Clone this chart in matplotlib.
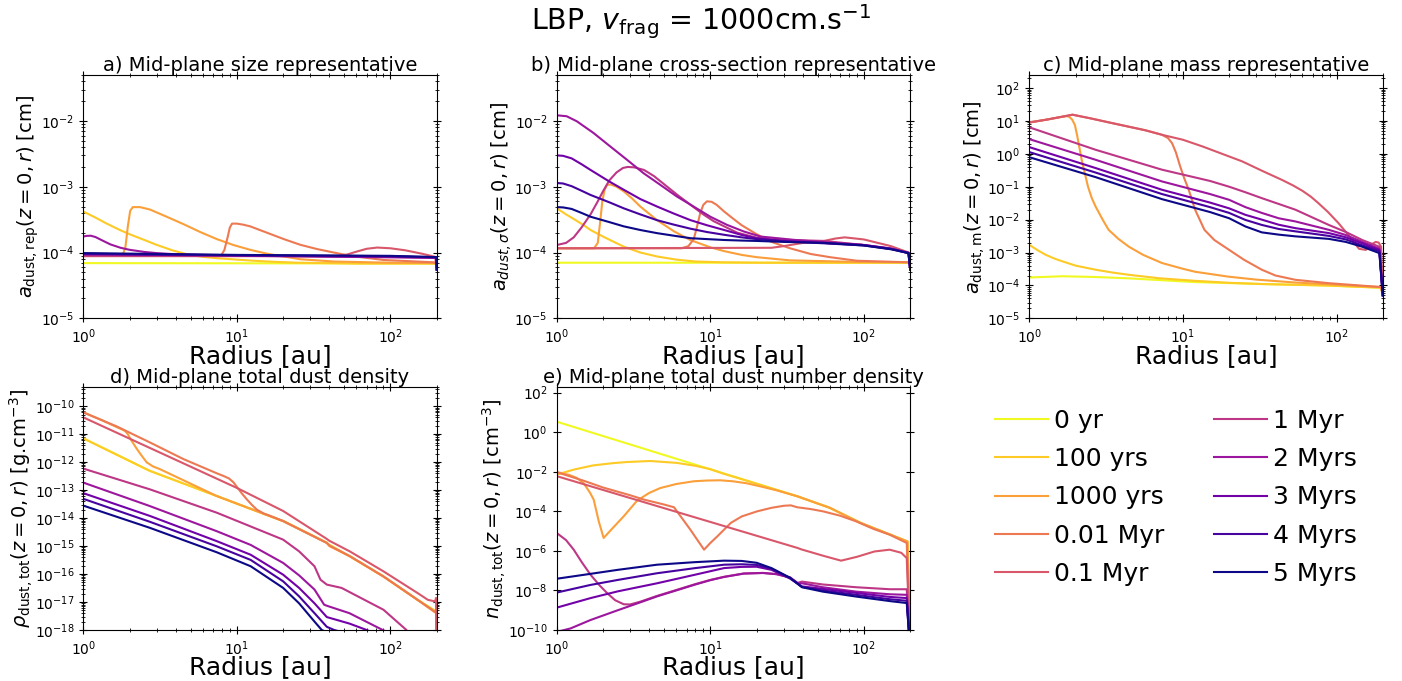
"""Mid-plane dust profiles for the LBP run (v_frag = 1000 cm/s)."""
import matplotlib
matplotlib.use("Agg")
import matplotlib.pyplot as plt
import numpy as np

LABELS = ["0 yr", "100 yrs", "1000 yrs", "0.01 Myr", "0.1 Myr",
          "1 Myr", "2 Myrs", "3 Myrs", "4 Myrs", "5 Myrs"]

# a) mid-plane size representative [cm], (radius [au], value) per snapshot
size_rep = [
    ([1, 199, 200], [6.9e-5, 6.8e-5, 6.6e-5]),
    ([1, 1.2, 1.4, 1.73, 2.0, 2.5, 3.0, 3.8, 4.9, 6, 7.4, 10, 12.8, 18, 25, 40, 60, 199, 200],
     [4.2e-4, 3.4e-4, 2.8e-4, 2.2e-4, 1.9e-4, 1.55e-4, 1.31e-4, 1.08e-4, 9.2e-5, 8.6e-5, 8.2e-5,
      7.8e-5, 7.5e-5, 7.2e-5, 7.0e-5, 6.9e-5, 6.8e-5, 6.8e-5, 6.6e-5]),
    ([1, 1.8, 1.88, 1.95, 2.02, 2.1, 2.34, 2.72, 3.49, 4.49, 5.77, 7.4, 9.5, 12.2, 15.7, 25.9, 42.7, 100, 199, 200],
     [9.0e-5, 9.0e-5, 1.2e-4, 2.5e-4, 4.3e-4, 4.9e-4, 4.9e-4, 4.5e-4, 3.5e-4, 2.7e-4, 2.05e-4,
      1.6e-4, 1.3e-4, 1.1e-4, 9.6e-5, 7.9e-5, 7.3e-5, 7.0e-5, 6.9e-5, 6.6e-5]),
    ([1, 7.9, 8.3, 8.7, 9.0, 9.3, 10, 11, 12.2, 15.7, 20.2, 25.9, 33.2, 42.7, 55, 90, 192, 200],
     [9.0e-5, 9.0e-5, 1.1e-4, 1.7e-4, 2.4e-4, 2.75e-4, 2.75e-4, 2.65e-4, 2.5e-4, 2.0e-4, 1.6e-4,
      1.31e-4, 1.13e-4, 1.0e-4, 8.9e-5, 7.7e-5, 7.1e-5, 6.6e-5]),
    ([1, 45, 52, 60, 70, 82, 100, 125, 160, 195, 200],
     [8.8e-5, 8.8e-5, 9.3e-5, 1.03e-4, 1.14e-4, 1.19e-4, 1.16e-4, 1.08e-4, 9.6e-5, 8.6e-5, 6.0e-5]),
    ([1, 10, 100, 199, 200], [9.0e-5, 8.9e-5, 8.6e-5, 8.3e-5, 5.5e-5]),
    ([1, 1.05, 1.12, 1.2, 1.35, 1.5, 1.75, 2.0, 2.5, 3.0, 4, 5.8, 20, 199, 200],
     [1.75e-4, 1.79e-4, 1.8e-4, 1.72e-4, 1.5e-4, 1.33e-4, 1.18e-4, 1.1e-4, 1.02e-4, 9.8e-5, 9.4e-5,
      9.2e-5, 8.8e-5, 8.3e-5, 5.5e-5]),
    ([1, 10, 100, 199, 200], [9.4e-5, 9.0e-5, 8.7e-5, 8.4e-5, 5.5e-5]),
    ([1, 10, 100, 199, 200], [9.6e-5, 9.1e-5, 8.8e-5, 8.5e-5, 5.5e-5]),
    ([1, 10, 100, 199, 200], [9.8e-5, 9.2e-5, 8.9e-5, 8.5e-5, 5.5e-5]),
]

# b) mid-plane cross-section representative [cm]
r_late = [1, 1.1, 1.25, 1.45, 1.66, 2.2, 2.73, 3.5, 4.5, 5.8, 7.44, 9.5, 12.3, 16, 20, 30, 55, 100, 150, 195, 200]
cross_rep = [
    ([1, 199, 200], [7.0e-5, 7.0e-5, 6.5e-5]),
    ([1, 1.15, 1.3, 1.5, 1.66, 2.0, 2.4, 2.73, 3.5, 4.5, 6, 8, 12, 21, 199, 200],
     [4.7e-4, 3.8e-4, 3.2e-4, 2.6e-4, 2.2e-4, 1.75e-4, 1.42e-4, 1.23e-4, 1.0e-4, 8.7e-5, 7.8e-5,
      7.3e-5, 7.1e-5, 7.0e-5, 7.0e-5, 6.5e-5]),
    ([1, 1.75, 1.85, 1.92, 1.98, 2.05, 2.13, 2.25, 2.45, 2.73, 3.1, 3.5, 4.5, 5.8, 7.4, 10, 12.3,
      16, 20, 33, 90, 199, 200],
     [1.16e-4, 1.16e-4, 1.4e-4, 3e-4, 6e-4, 9e-4, 1.07e-3, 1.08e-3, 1.0e-3, 8.5e-4, 6.6e-4, 5.0e-4,
      3.1e-4, 2.1e-4, 1.55e-4, 1.2e-4, 1.05e-4, 9.2e-5, 8.5e-5, 7.6e-5, 7.2e-5, 7.1e-5, 6.5e-5]),
    ([1, 6.5, 7.2, 7.8, 8.2, 8.6, 9.0, 9.5, 10.2, 11, 12.3, 14, 16, 20, 25, 33, 45, 60, 90, 199, 200],
     [1.16e-4, 1.16e-4, 1.25e-4, 1.6e-4, 2.5e-4, 4.0e-4, 5.3e-4, 6.0e-4, 5.9e-4, 5.3e-4, 4.2e-4,
      3.3e-4, 2.6e-4, 1.9e-4, 1.45e-4, 1.16e-4, 9.5e-5, 8.5e-5, 7.5e-5, 7.1e-5, 6.5e-5]),
    ([1, 25, 30, 40, 55, 65, 75, 100, 150, 195, 200],
     [1.16e-4, 1.18e-4, 1.25e-4, 1.4e-4, 1.5e-4, 1.63e-4, 1.7e-4, 1.58e-4, 1.25e-4, 1.0e-4, 6e-5]),
    ([1, 1.15, 1.29, 1.45, 1.66, 1.85, 2.0, 2.2, 2.45, 2.7, 2.9, 3.2, 3.7, 4.3, 5.24, 6.2, 7.44, 9,
      10.5, 12.3, 15, 20, 25, 33, 55, 100, 150, 195, 200],
     [1.3e-4, 1.4e-4, 1.7e-4, 2.4e-4, 3.8e-4, 6e-4, 8.5e-4, 1.25e-3, 1.65e-3, 1.93e-3, 2.0e-3,
      1.97e-3, 1.8e-3, 1.45e-3, 1.0e-3, 7.3e-4, 5.3e-4, 3.8e-4, 3.0e-4, 2.5e-4, 2.0e-4, 1.68e-4,
      1.58e-4, 1.55e-4, 1.5e-4, 1.3e-4, 1.15e-4, 1.0e-4, 5.5e-5]),
    ([1, 1.16, 1.35, 1.73, 2.23, 2.86, 3.67, 4.72, 6.06, 7.78, 10, 12.8, 16.5, 21.2, 34.9, 57.6, 95,
      156, 196, 200],
     [1.22e-2, 1.18e-2, 9.9e-3, 6.6e-3, 4.1e-3, 2.58e-3, 1.61e-3, 1.07e-3, 7.1e-4, 5.0e-4, 3.5e-4,
      2.64e-4, 2.09e-4, 1.75e-4, 1.56e-4, 1.42e-4, 1.32e-4, 1.12e-4, 9.8e-5, 5.5e-5]),
    (r_late, [3.0e-3, 2.95e-3, 2.7e-3, 2.2e-3, 1.8e-3, 1.2e-3, 9.0e-4, 6.5e-4, 5.0e-4, 3.9e-4, 3.1e-4,
              2.6e-4, 2.2e-4, 1.85e-4, 1.65e-4, 1.5e-4, 1.4e-4, 1.3e-4, 1.15e-4, 9.8e-5, 5.5e-5]),
    (r_late, [1.14e-3, 1.12e-3, 1.02e-3, 8.7e-4, 7.5e-4, 5.8e-4, 4.7e-4, 3.8e-4, 3.1e-4, 2.65e-4, 2.3e-4,
              2.05e-4, 1.86e-4, 1.7e-4, 1.6e-4, 1.48e-4, 1.38e-4, 1.28e-4, 1.13e-4, 9.8e-5, 5.5e-5]),
    (r_late, [4.9e-4, 4.85e-4, 4.6e-4, 4.0e-4, 3.5e-4, 2.9e-4, 2.5e-4, 2.2e-4, 1.97e-4, 1.8e-4, 1.65e-4,
              1.6e-4, 1.55e-4, 1.52e-4, 1.5e-4, 1.45e-4, 1.4e-4, 1.28e-4, 1.12e-4, 9.8e-5, 5.5e-5]),
]

# c) mid-plane mass representative [cm]
r_mass = [1, 2.7, 7.3, 15, 20, 25.5, 32.6, 42, 54, 89, 115, 147, 190, 200]
mass_rep = [
    ([1, 1.64, 2.7, 4.45, 12, 33, 89, 195, 200],
     [1.74e-4, 1.9e-4, 1.8e-4, 1.64e-4, 1.26e-4, 1.1e-4, 9.9e-5, 8.5e-5, 5e-5]),
    ([1, 1.14, 1.28, 1.45, 1.64, 2.0, 2.7, 3.5, 4.45, 7, 12, 20, 33, 89, 195, 200],
     [1.71e-3, 1.15e-3, 8.5e-4, 6.6e-4, 5.4e-4, 4.0e-4, 3.0e-4, 2.45e-4, 2.1e-4, 1.65e-4, 1.38e-4,
      1.2e-4, 1.1e-4, 9.9e-5, 8.5e-5, 5e-5]),
    ([1, 1.3, 1.6, 1.75, 1.82, 1.9, 1.98, 2.05, 2.12, 2.2, 2.3, 2.41, 2.55, 2.7, 3.0, 3.28, 3.8, 4.45,
      5.5, 7.3, 10, 12, 19.7, 30, 53, 100, 195, 200],
     [9.0, 11.0, 13.2, 14.0, 13.3, 11.0, 7.5, 3.5, 1.5, 0.6, 0.25, 0.1, 0.045, 0.025, 0.01, 4.9e-3,
      2.6e-3, 1.5e-3, 8.5e-4, 4.8e-4, 3.2e-4, 2.6e-4, 1.85e-4, 1.5e-4, 1.23e-4, 1.05e-4, 8.9e-5, 5e-5]),
    ([1, 1.3, 1.6, 1.91, 2.5, 3.46, 5.7, 7.3, 8.0, 8.5, 9.0, 9.6, 10.2, 10.9, 12, 13.8, 16, 20, 25,
      32.6, 40, 54, 89, 195, 200],
     [9.0, 11.0, 13.2, 15.5, 12.0, 8.6, 5.2, 3.8, 3.0, 2.1, 1.1, 0.41, 0.18, 0.081, 0.02, 4.9e-3,
      2.4e-3, 1.2e-3, 6e-4, 3.0e-4, 2.0e-4, 1.48e-4, 1.17e-4, 8.9e-5, 5e-5]),
    ([1, 1.3, 1.6, 1.91, 2.5, 3.46, 5.7, 7.3, 10, 13.4, 18, 24.3, 33, 44.3, 52, 60, 68, 76, 88, 103,
      120, 140, 155, 170, 180, 188, 195, 200],
     [9.0, 11.0, 13.2, 15.5, 12.0, 8.6, 5.2, 3.8, 2.68, 1.68, 1.0, 0.59, 0.3, 0.16, 0.11, 0.075, 0.05,
      0.032, 0.017, 7.8e-3, 3.3e-3, 1.3e-3, 1.2e-3, 1.8e-3, 2.1e-3, 2.0e-3, 1.5e-3, 5e-5]),
    (r_mass, [6.4, 1.33, 0.33, 0.15, 0.1, 0.068, 0.045, 0.03, 0.02, 6.9e-3, 4.2e-3, 2.4e-3, 1.5e-3, 5e-5]),
    (r_mass, [2.8, 0.66, 0.145, 0.06, 0.040, 0.024, 0.016, 0.011, 8.8e-3, 4.9e-3, 3.4e-3, 2.1e-3, 1.3e-3, 5e-5]),
    (r_mass, [1.6, 0.37, 0.081, 0.033, 0.022, 0.014, 0.01, 7e-3, 5.5e-3, 3.9e-3, 2.9e-3, 1.9e-3, 1.2e-3, 5e-5]),
    (r_mass, [1.13, 0.27, 0.06, 0.024, 0.016, 9.8e-3, 6.9e-3, 5.2e-3, 4.4e-3, 3.2e-3, 2.5e-3, 1.65e-3, 1.1e-3, 5e-5]),
    (r_mass, [0.79, 0.196, 0.042, 0.017, 0.011, 6.2e-3, 4.1e-3, 3.5e-3, 3.1e-3, 2.6e-3, 2.1e-3, 1.5e-3, 9.6e-4, 5e-5]),
]

# d) mid-plane total dust density [g/cm^3]
r_gas = [1, 2.71, 7.37, 20, 38.5, 40, 54.5, 90, 150, 198, 200]
rho_early = [7.1e-12, 4.9e-13, 6.2e-14, 7.8e-15, 1.3e-15, 1.1e-15, 4.3e-16, 8.2e-17, 1.2e-17, 4.6e-18, 1e-19]
rho_tot = [
    (r_gas, rho_early),
    (r_gas, rho_early),
    ([1, 1.3, 1.65, 1.8, 1.87, 1.95, 2.0, 2.1, 2.23, 2.4, 2.59, 2.85, 3.16, 3.6, 7.37, 20, 38.5, 40,
      54.5, 90, 150, 198, 200],
     [6.1e-11, 3.3e-11, 1.8e-11, 1.45e-11, 1.3e-11, 1.0e-11, 7.7e-12, 5e-12, 3.0e-12, 1.7e-12, 9.8e-13,
      7e-13, 5.6e-13, 4.0e-13, 6.2e-14, 7.8e-15, 1.3e-15, 1.0e-15, 4.3e-16, 8.2e-17, 1.2e-17, 4.0e-18, 1e-19]),
    ([1, 1.65, 2.71, 4.5, 7.4, 8.2, 8.9, 9.5, 10, 10.8, 11.6, 12.5, 13.5, 15, 16.5, 20, 38.5, 40, 54.5,
      90, 150, 198, 200],
     [6.0e-11, 1.9e-11, 5.1e-12, 1.28e-12, 4.0e-13, 3.2e-13, 2.6e-13, 1.9e-13, 1.3e-13, 7.5e-14, 4.7e-14,
      3e-14, 2.0e-14, 1.45e-14, 1.2e-14, 7.9e-15, 1.3e-15, 1.05e-15, 4.3e-16, 8.2e-17, 1.2e-17, 4.2e-18, 1e-19]),
    ([1, 10, 20, 38.5, 40, 54.5, 90, 150, 175, 195, 198, 200],
     [4.0e-11, 1.2e-13, 1.8e-14, 1.8e-15, 1.55e-15, 6.4e-16, 1.25e-16, 2.1e-17, 1.2e-17, 1.05e-17, 1.4e-17, 1e-19]),
    ([1, 2.71, 7.4, 20, 25.4, 32, 35, 38.5, 40, 48, 90, 127, 200],
     [5.9e-13, 1.07e-13, 1.56e-14, 1.7e-15, 6.5e-16, 1.9e-16, 6.3e-17, 4.2e-17, 4.0e-17, 3.2e-17, 5.3e-18, 1.0e-18, 1e-20]),
    ([1, 2.71, 7.4, 12.3, 20, 25.4, 32, 37, 39, 54, 89, 150],
     [1.86e-13, 2.7e-14, 3.4e-15, 1.1e-15, 2.5e-16, 9e-17, 2.8e-17, 8e-18, 7.2e-18, 4e-18, 1e-18, 3e-19]),
    ([1, 2.71, 7.4, 12.3, 20, 25.4, 32, 38.5, 54, 70, 120],
     [7.8e-14, 1.2e-14, 1.5e-15, 4.9e-16, 9.5e-17, 3.2e-17, 9e-18, 2.9e-18, 1.7e-18, 1.0e-18, 3e-19]),
    ([1, 2.71, 7.4, 12.3, 20, 25.4, 32, 38.5, 43, 80],
     [4.9e-14, 7.4e-15, 9.8e-16, 3.2e-16, 5.5e-17, 1.6e-17, 4e-18, 1.3e-18, 1.0e-18, 4e-19]),
    ([1, 2.71, 7.4, 12.3, 20, 25.4, 32, 35.7, 60],
     [2.8e-14, 4.5e-15, 6e-16, 1.9e-16, 3.2e-17, 9e-18, 2e-18, 1.0e-18, 3e-19]),
]

# e) mid-plane total dust number density [cm^-3]
r_num = [1, 1.66, 2.5, 4.5, 8, 12.3, 16, 20, 25, 33, 39.5, 54, 89, 147, 190, 200]
n_tot = [
    ([1, 36.7, 60, 95, 192, 200], [3.4, 5.8e-4, 1.5e-4, 2.6e-5, 3.0e-6, 1e-11]),
    ([1, 1.3, 1.73, 2.3, 2.86, 4.06, 6.06, 8, 10, 12, 20, 36.7, 60, 95, 192, 200],
     [7.2e-3, 0.013, 0.021, 0.027, 0.031, 0.035, 0.028, 0.02, 0.0135, 8.3e-3, 2.5e-3, 5.8e-4, 1.5e-4,
      2.6e-5, 3.0e-6, 1e-11]),
    ([1, 1.2, 1.35, 1.5, 1.65, 1.74, 1.88, 2.02, 2.3, 2.73, 3.34, 4.0, 4.72, 6, 7.8, 9.5, 11.6, 14,
      17.3, 22, 27, 36.7, 60, 95, 192, 200],
     [9.5e-3, 7e-3, 4.9e-3, 2.6e-3, 8.5e-4, 3.9e-4, 3e-5, 4.5e-6, 1.35e-5, 5.6e-5, 3.5e-4, 8.5e-4,
      1.5e-3, 2.4e-3, 3.3e-3, 3.6e-3, 3.7e-3, 3.3e-3, 2.6e-3, 1.7e-3, 1.15e-3, 5.8e-4, 1.5e-4, 2.6e-5,
      3.0e-6, 1e-11]),
    ([1, 1.5, 2, 3, 3.7, 5, 5.8, 7.4, 9.1, 10, 11.1, 13.6, 16, 20.2, 25, 30, 33.4, 36.8, 45, 54, 70,
      89, 115, 147, 190, 200],
     [9.5e-3, 3.5e-3, 1.6e-3, 6.5e-4, 3.9e-4, 2.2e-4, 1.6e-4, 1.2e-5, 1.15e-6, 2.5e-6, 5.4e-6, 2.6e-5,
      5.5e-5, 1e-4, 1.5e-4, 1.9e-4, 2.0e-4, 1.6e-4, 1.3e-4, 1e-4, 6e-5, 3.1e-5, 1.3e-5, 6.6e-6, 2.5e-6, 1e-11]),
    ([1, 37, 39, 55, 71, 90, 117, 147, 175, 190, 200],
     [6e-3, 1.4e-6, 1.2e-6, 5.5e-7, 3.2e-7, 5e-7, 9.3e-7, 1.15e-6, 8e-7, 4.3e-7, 1e-11]),
    ([1, 1.15, 1.29, 1.45, 1.66, 1.9, 2.13, 2.4, 2.73, 3.0, 3.5, 4.5, 6, 8, 10, 12.3, 16.5, 22, 27, 33,
      37, 39.5, 54, 89, 147, 190, 200],
     [8e-6, 3.5e-6, 1.15e-6, 2.8e-7, 6.2e-8, 1.8e-8, 7.3e-9, 3.2e-9, 2.0e-9, 1.95e-9, 2.7e-9, 5.3e-9,
      1.05e-8, 2.1e-8, 3.4e-8, 4.9e-8, 7.2e-8, 7.7e-8, 6.7e-8, 4.6e-8, 2.4e-8, 2.8e-8, 2e-8, 1.45e-8,
      1.15e-8, 1.15e-8, 1e-11]),
    ([1, 1.23, 1.66, 2.5, 3.5, 4.5, 6, 8, 10, 12.3, 16.5, 22, 27, 33, 37, 39.5, 54, 89, 147, 190, 200],
     [8e-11, 1.2e-10, 3.2e-10, 1e-9, 2.5e-9, 5e-9, 1e-8, 2e-8, 3.3e-8, 4.8e-8, 7.1e-8, 7.6e-8, 6.6e-8,
      4.5e-8, 2.3e-8, 2.3e-8, 1.45e-8, 8.7e-9, 6.4e-9, 6e-9, 1e-11]),
    (r_num, [1.35e-9, 4.1e-9, 9e-9, 2.3e-8, 6.3e-8, 1.35e-7, 1.55e-7, 1.58e-7, 1.1e-7, 4e-8, 1.6e-8,
             1.2e-8, 7.5e-9, 4.7e-9, 4.1e-9, 1e-11]),
    (r_num, [7.8e-9, 1.9e-8, 3.4e-8, 7.4e-8, 1.35e-7, 2.0e-7, 2.1e-7, 1.95e-7, 1.25e-7, 4.2e-8, 1.5e-8,
             1e-8, 6e-9, 3.6e-9, 3e-9, 1e-11]),
    (r_num, [3.9e-8, 6.9e-8, 1.1e-7, 2.0e-7, 2.7e-7, 3.2e-7, 3.1e-7, 2.5e-7, 1.35e-7, 4.4e-8, 1.45e-8,
             8.7e-9, 4.9e-9, 2.9e-9, 2.3e-9, 1e-11]),
]

PANELS = [
    (size_rep, "a) Mid-plane size representative", r"$a_{\rm dust, rep}(z=0, r)$ [cm]", (1e-5, 5e-2)),
    (cross_rep, "b) Mid-plane cross-section representative", r"$a_{dust, \sigma}(z=0, r)$ [cm]", (1e-5, 5e-2)),
    (mass_rep, "c) Mid-plane mass representative", r"$a_{\rm dust, m}(z=0, r)$ [cm]", (1e-5, 2.5e2)),
    (rho_tot, "d) Mid-plane total dust density", r"$\rho_{\rm dust, tot}(z=0, r)$ [g.cm$^{-3}$]", (1e-18, 5e-10)),
    (n_tot, "e) Mid-plane total dust number density", r"$n_{\rm dust, tot}(z=0, r)$ [cm$^{-3}$]", (1e-10, 2e2)),
]

colors = plt.cm.plasma_r(np.linspace(0, 1, len(LABELS)))

fig = plt.figure(figsize=(14.02, 6.81), dpi=100)
lefts = [0.0594, 0.3971, 0.7342]
bottoms = [0.5326, 0.0749]
w, h = 0.2521, 0.3573

for i, (series, title, ylabel, ylim) in enumerate(PANELS):
    ax = fig.add_axes([lefts[i % 3], bottoms[i // 3], w, h])
    for (r, v), c, lab in zip(series, colors, LABELS):
        ax.plot(r, v, color=c, lw=1.5, label=lab)
    ax.set_xscale("log")
    ax.set_yscale("log")
    ax.set_xlim(1, 200)
    ax.set_ylim(*ylim)
    ax.set_title(title, fontsize=14, pad=2)
    ax.set_xlabel("Radius [au]", fontsize=18, labelpad=-1.5)
    ax.set_ylabel(ylabel, fontsize=14, labelpad=0)
    ax.tick_params(which="both", direction="inout", top=True, right=True, labelsize=10)
    ax.tick_params(which="major", length=6)
    ax.tick_params(which="minor", length=3.5)
    if i == 0:
        handles, labels = ax.get_legend_handles_labels()

fig.legend(handles, labels, loc="center", bbox_to_anchor=(0.8388, 0.2695), ncol=2,
           frameon=False, fontsize=18, handlelength=2.1, handletextpad=0.25, labelspacing=0.57)
fig.text(0.5, 0.968, r"LBP, $v_{\rm frag}$ = 1000cm.s$^{-1}$", ha="center", va="center", fontsize=20.5)

fig.savefig("out.png", dpi=100)
